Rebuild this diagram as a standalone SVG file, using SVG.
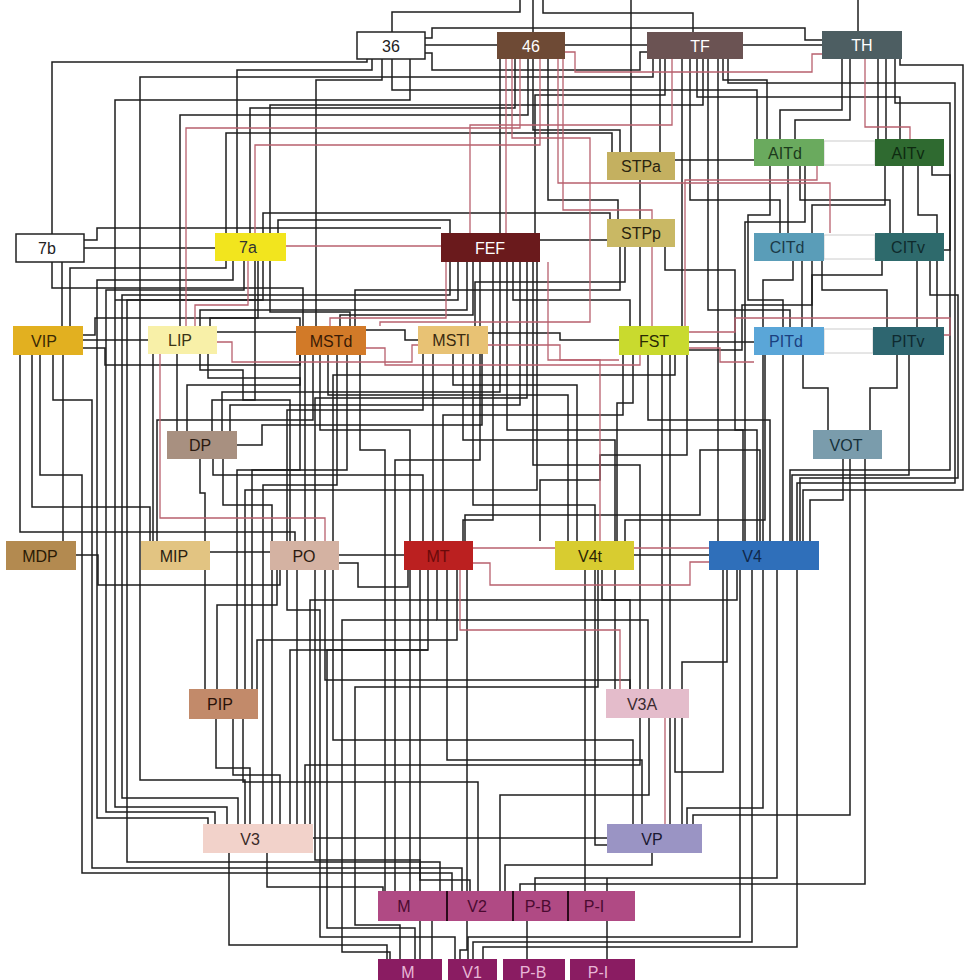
<svg xmlns="http://www.w3.org/2000/svg" width="980" height="980" viewBox="0 0 980 980">
<style>
.k{fill:none;stroke:#1e1e1e;stroke-width:1.5}
.r{fill:none;stroke:#b8606e;stroke-width:1.3}
.n text{font-family:"Liberation Sans",Arial,sans-serif;font-size:16px;text-anchor:middle;dominant-baseline:central}
.sep{stroke:#2a0a1a;stroke-width:2}
</style>
<rect width="980" height="980" fill="#fff"/>
<g id="connectors">
<g class="k">
<path d="M392,32V12H520V0"/><path d="M533,32V0"/><path d="M693,32V13H543V0"/><path d="M631,0V152"/><path d="M858,31V0"/>
<path d="M425,38H432V28H805V40H822"/><path d="M425,45H497"/><path d="M425,53H432V70H640V52H647"/><path d="M565,45H647"/><path d="M743,45H822"/>
<path d="M367,59V62H52V234"/><path d="M52,262V288H303V326"/><path d="M372,59V70H237V233"/><path d="M392,59V90H757V139"/><path d="M382,59V80H316V326"/>
<path d="M410,59V100H115V807H227V825"/>
<path d="M500,59V233"/><path d="M515,59V108H250V233"/><path d="M528,59V115H180V326"/><path d="M533,59V130H620V152"/><path d="M548,59V200H618V219"/>
<path d="M653,59V77H140V780H245V825"/><path d="M660,59V152"/><path d="M665,59V95H535V233"/><path d="M690,59V200H780V233"/><path d="M718,59V542"/><path d="M723,59V80H767V139"/>
<path d="M728,59V83H955V483H797V542"/><path d="M697,59V97H900V139"/><path d="M708,59V310H790V327"/><path d="M682,59V326"/><path d="M703,59V105H270V233"/>
<path d="M84,240H97V228H441"/><path d="M84,248H215"/><path d="M62,262V326"/>
<path d="M226,233V133H612V152"/><path d="M263,233V213H610V219"/><path d="M278,233V220H450V233"/>
<path d="M226,261V268H70V326"/><path d="M233,261V280H97V818H208V825"/><path d="M244,261V290H106V812H215V825"/>
<path d="M450,262V295H122V798H238V825"/><path d="M458,262V300H127V862H440V891"/>
<path d="M40,355V475H82V873H452V891"/><path d="M53,355V400H92V868H462V891"/><path d="M63,355V541"/><path d="M20,355V532H295V541"/><path d="M32,355V507H150V541"/>
<path d="M83,340H148"/><path d="M83,335H95V318H300V326"/><path d="M83,348H105V365H300V355"/>
<path d="M217,332H296"/><path d="M153,354V541"/><path d="M177,354V432"/><path d="M200,354V370H243V400H290V541"/><path d="M208,354V378H300V470H252V689"/>
<path d="M320,355V430H410V541"/><path d="M305,355V541"/><path d="M328,355V395H568V541"/><path d="M313,355V420H157V541"/><path d="M337,355V485H263V825"/><path d="M347,355V470H237V689"/><path d="M360,355V450H385V891"/>
<path d="M366,330H405V340H418"/><path d="M488,333H560V340H619"/>
<path d="M433,354V541"/><path d="M453,354V385H577V541"/><path d="M423,354V410H287V541"/><path d="M463,354V440H615V689"/><path d="M473,354V505H595V845H607"/><path d="M480,354V460H395V891"/>
<path d="M467,262V310H200V326"/><path d="M473,262V315H340V326"/><path d="M480,262V326"/><path d="M493,262V520H463V541"/><path d="M507,262V430H743V542"/><path d="M513,262V300H630V326"/>
<path d="M520,262V405H230V432"/><path d="M527,262V398H315V541"/><path d="M533,262V465H640V689"/><path d="M537,262V490H245V689"/><path d="M540,240H607"/>
<path d="M640,180V219"/><path d="M675,160H754"/><path d="M640,247V326"/><path d="M620,247V290H355V326"/><path d="M625,247V282H475V326"/><path d="M665,247V270H735V430H757V542"/>
<path d="M842,59V110H780V139"/><path d="M850,59V120H795V139"/><path d="M878,59V139"/><path d="M886,59V139"/><path d="M895,59V103H950V250H944"/><path d="M900,59V65H963V490H803V542"/>
<path d="M788,166V233"/><path d="M800,166V200H890V233"/><path d="M770,166V215H748V300H783V327"/><path d="M805,166V222H745V542"/>
<path d="M903,166V233"/><path d="M885,166V205H812V233"/><path d="M918,166V215H937V327"/><path d="M932,166V175H950V470H790V542"/>
<path d="M802,261V327"/><path d="M793,261V280H763V542"/><path d="M822,261V290H887V327"/><path d="M812,261V305H742V350H689"/><path d="M917,261V327"/><path d="M882,261V275H812V327"/><path d="M930,261V295H958V478H800V542"/>
<path d="M803,355V388H828V431"/><path d="M897,355V388H870V431"/><path d="M909,355V475H792V542"/><path d="M783,355V542"/><path d="M765,355V520H625V541"/><path d="M689,342H754"/>
<path d="M843,459V500H810V542"/><path d="M850,459V815H693V825"/><path d="M865,459V884H520V891"/>
<path d="M777,570V878H535V891"/><path d="M607,878V891"/><path d="M763,570V808H687V825"/><path d="M797,570V947H483V959"/><path d="M752,570V942H473V959"/><path d="M740,570V937H468V959"/>
<path d="M737,570V600H310V825"/><path d="M727,570V662H682V689"/><path d="M634,555H709"/><path d="M723,570V772H675V718"/>
<path d="M585,570V891"/><path d="M602,570V600H630V689"/><path d="M617,541V403H633V354"/>
<path d="M623,354V415H443V541"/><path d="M648,354V420H770V542"/><path d="M662,354V689"/><path d="M670,354V825"/><path d="M675,354V375H333V541"/>
<path d="M410,570V891"/><path d="M420,570V880H470V891"/><path d="M428,570V650H290V825"/><path d="M437,570V620H648V689"/><path d="M447,570V760H642V825"/><path d="M457,570V640H257V689"/><path d="M467,570V950H460V959"/>
<path d="M210,552H270"/><path d="M339,555H404"/><path d="M339,563H358V587H408V570"/><path d="M297,570V825"/><path d="M315,570V860H420V891"/><path d="M277,570V605H217V689"/><path d="M325,570V680H630V689"/><path d="M333,570V740H633V825"/>
<path d="M76,555H98V585H280V570"/><path d="M200,459V493H205V689"/><path d="M213,459V475H423V541"/><path d="M223,459V505H272V825"/><path d="M255,261V400H212V432"/>
<path d="M216,719V768H250V825"/><path d="M243,719V782H478V891"/><path d="M233,719V775H280V825"/>
<path d="M229,853V945H387V959"/><path d="M267,853V887H383V891"/><path d="M313,838H607"/>
<path d="M652,853V865H505V891"/><path d="M649,718V795H500V891"/><path d="M640,718V765H305V825"/><path d="M682,718V825"/>
<path d="M432,921V959"/><path d="M527,921V959"/><path d="M607,921V959"/><path d="M420,921V959"/>
<path d="M287,570V610H320V937H455V959"/><path d="M598,570V687H355V925H400V959"/><path d="M437,620H342V952H390V959"/><path d="M428,650H327V928H415V959"/>
<path d="M258,261V318H210V326"/><path d="M270,261V312H350V326"/><path d="M263,261V300H115"/>
<path d="M187,432V385H300V355"/><path d="M222,432V392H500V262"/><path d="M237,445H262V425H482V354"/>
<path d="M687,354V455H600V480H540V541"/><path d="M465,541V515H700V450H760V542"/>
</g>
<g class="r">
<path d="M565,52H575V72H812V54H822"/><path d="M506,59V233"/><path d="M520,59V128H186V326"/><path d="M540,59V145H255V233"/><path d="M558,59V183H830V233"/><path d="M563,59V210H652V326"/>
<path d="M286,246H441"/><path d="M672,59V125H470V233"/><path d="M865,59V127H910V139"/><path d="M817,166V180H685V326"/>
<path d="M160,354V518H325V541"/><path d="M217,342H232V362H412V345H418"/><path d="M366,348H385V365H640V354"/><path d="M634,548H709"/>
<path d="M665,718V825"/><path d="M620,689V630H460V570"/><path d="M473,548H555"/><path d="M473,563H490V585H690V562H709"/>
<path d="M446,262V318H330V326"/><path d="M195,326V305H248V261"/><path d="M689,348H720V362H754"/><path d="M488,345H560V360H619"/><path d="M689,332H735V318H950V335H944"/>
<path d="M512,59V138H590V322H380V326"/><path d="M548,262V360H600V560H555"/>
</g>
</g>
<g class="n">
<g id="n36"><rect x="357" y="32" width="68" height="27" fill="#fff" stroke="#222" stroke-width="1.5"/><text x="391" y="46" fill="#222">36</text></g>
<g id="n46"><rect x="497" y="32" width="68" height="27" fill="#6e4a35"/><text x="531" y="46" fill="#fff">46</text></g>
<g id="nTF"><rect x="647" y="32" width="96" height="27" fill="#6b5353"/><text x="700" y="46" fill="#fff">TF</text></g>
<g id="nTH"><rect x="822" y="31" width="80" height="28" fill="#4d5e62"/><text x="862" y="45" fill="#fff">TH</text></g>
<g id="nAIT"><rect x="824" y="141" width="51" height="24" fill="#fff" stroke="#ccc"/><rect x="754" y="139" width="70" height="27" fill="#6aaa5e"/><text x="785" y="153" fill="#1c3a1c">AITd</text><rect x="875" y="139" width="69" height="27" fill="#2f6a30"/><text x="908" y="153" fill="#0e2a10">AITv</text></g>
<g id="nSTPa"><rect x="607" y="152" width="68" height="28" fill="#c4b060"/><text x="641" y="166" fill="#2a2410">STPa</text></g>
<g id="nSTPp"><rect x="607" y="219" width="68" height="28" fill="#c9b864"/><text x="641" y="233" fill="#2a2410">STPp</text></g>
<g id="nCIT"><rect x="824" y="235" width="51" height="24" fill="#fff" stroke="#ccc"/><rect x="754" y="233" width="70" height="28" fill="#5a9db8"/><text x="787" y="247" fill="#1a3a48">CITd</text><rect x="875" y="233" width="69" height="28" fill="#2e6a6c"/><text x="908" y="247" fill="#0f2a2c">CITv</text></g>
<g id="n7b"><rect x="16" y="234" width="68" height="28" fill="#fff" stroke="#222" stroke-width="1.5"/><text x="47" y="248" fill="#222">7b</text></g>
<g id="n7a"><rect x="215" y="233" width="71" height="28" fill="#f2e51e"/><text x="248" y="247" fill="#333">7a</text></g>
<g id="nFEF"><rect x="441" y="233" width="99" height="29" fill="#6a1a1c"/><text x="490" y="248" fill="#fff">FEF</text></g>
<g id="nVIP"><rect x="13" y="326" width="70" height="29" fill="#e2b020"/><text x="44" y="341" fill="#3a2a05">VIP</text></g>
<g id="nLIP"><rect x="148" y="326" width="69" height="28" fill="#f8f0a8"/><text x="180" y="340" fill="#3a3415">LIP</text></g>
<g id="nMSTd"><rect x="296" y="326" width="70" height="29" fill="#d27a28"/><text x="331" y="341" fill="#3a1a05">MSTd</text></g>
<g id="nMSTl"><rect x="418" y="326" width="70" height="28" fill="#e8c274"/><text x="451" y="340" fill="#3a2a10">MSTl</text></g>
<g id="nFST"><rect x="619" y="326" width="70" height="29" fill="#c9da2e"/><text x="654" y="341" fill="#2a2a05">FST</text></g>
<g id="nPIT"><rect x="824" y="329" width="49" height="24" fill="#fff" stroke="#ccc"/><rect x="754" y="327" width="70" height="28" fill="#5aa6d8"/><text x="786" y="341" fill="#1a4080">PITd</text><rect x="873" y="327" width="71" height="28" fill="#2e6670"/><text x="908" y="341" fill="#0f2a30">PITv</text></g>
<g id="nDP"><rect x="167" y="431" width="70" height="28" fill="#a89080"/><text x="200" y="445" fill="#2a1a10">DP</text></g>
<g id="nVOT"><rect x="813" y="430" width="69" height="29" fill="#7a9cac"/><text x="846" y="445" fill="#15303a">VOT</text></g>
<g id="nMDP"><rect x="6" y="541" width="70" height="29" fill="#b38a50"/><text x="40" y="556" fill="#2a1a05">MDP</text></g>
<g id="nMIP"><rect x="141" y="541" width="69" height="29" fill="#e2c482"/><text x="174" y="556" fill="#2a2010">MIP</text></g>
<g id="nPO"><rect x="270" y="541" width="69" height="29" fill="#d4b2a2"/><text x="304" y="556" fill="#2a1a10">PO</text></g>
<g id="nMT"><rect x="404" y="541" width="69" height="29" fill="#bb2020"/><text x="438" y="556" fill="#6a0a0a">MT</text></g>
<g id="nV4t"><rect x="555" y="541" width="79" height="29" fill="#d8cc30"/><text x="590" y="556" fill="#2a2505">V4t</text></g>
<g id="nV4"><rect x="709" y="541" width="110" height="29" fill="#2f6fba"/><text x="752" y="556" fill="#10284a">V4</text></g>
<g id="nPIP"><rect x="189" y="689" width="69" height="30" fill="#c28a6a"/><text x="220" y="704" fill="#2a1208">PIP</text></g>
<g id="nV3A"><rect x="606" y="689" width="83" height="29" fill="#e4bccb"/><text x="642" y="704" fill="#3a2a30">V3A</text></g>
<g id="nV3"><rect x="203" y="824" width="110" height="29" fill="#f2d2ca"/><text x="250" y="839" fill="#3a2a28">V3</text></g>
<g id="nVP"><rect x="607" y="824" width="95" height="29" fill="#9a94c4"/><text x="652" y="839" fill="#1a1830">VP</text></g>
<g id="nV2"><rect x="378" y="891" width="257" height="30" fill="#b04a84"/><line class="sep" x1="447" y1="891" x2="447" y2="921"/><line class="sep" x1="513" y1="891" x2="513" y2="921"/><line class="sep" x1="568" y1="891" x2="568" y2="921"/><text x="404" y="906" fill="#4a0a30">M</text><text x="477" y="906" fill="#4a0a30">V2</text><text x="538" y="906" fill="#4a0a30">P-B</text><text x="594" y="906" fill="#4a0a30">P-I</text></g>
<g id="nV1"><rect x="378" y="959" width="64" height="22" fill="#8a1c62"/><rect x="448" y="959" width="49" height="22" fill="#8a1c62"/><rect x="503" y="959" width="62" height="22" fill="#8a1c62"/><rect x="570" y="959" width="65" height="22" fill="#8a1c62"/><text x="408" y="972" fill="#e8b6d6">M</text><text x="472" y="972" fill="#e8b6d6">V1</text><text x="533" y="972" fill="#e8b6d6">P-B</text><text x="598" y="972" fill="#e8b6d6">P-I</text></g>
</g>
</svg>
